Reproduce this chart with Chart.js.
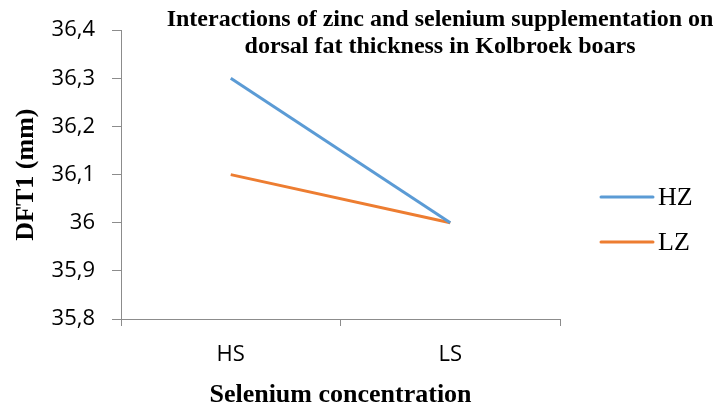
<!DOCTYPE html>
<html>
<head>
<meta charset="utf-8">
<script src="https://cdn.jsdelivr.net/npm/chart.js@4/dist/chart.umd.min.js"></script>
<style>
  html, body { margin: 0; padding: 0; background: #fff; }
  #wrap { width: 718px; height: 408px; position: relative; }
</style>
</head>
<body>
<div id="wrap"><canvas id="chart"></canvas></div>
<script>
const categories = ['HS', 'LS'];
const hzValues = [36.3, 36.0];
const lzValues = [36.1, 36.0];
const seriesNames = ['HZ', 'LZ'];
const titleLines = ['Interactions of zinc and selenium supplementation on', 'dorsal fat thickness in Kolbroek boars'];

const serif = '"Liberation Serif", "Times New Roman", serif';
const sans = '"Open Sans", "Liberation Sans", sans-serif';

// title + legend drawn by hand so they can sit where the original has them
const overlay = {
    id: 'overlay',
    afterDraw(chart) {
        const ctx = chart.ctx;
        ctx.save();
        ctx.fillStyle = '#000';
        ctx.textAlign = 'center';
        ctx.textBaseline = 'middle';
        ctx.font = 'bold 24px ' + serif;
        ctx.fillText(titleLines[0], 440, 20);
        ctx.fillText(titleLines[1], 440, 47);

        ctx.textAlign = 'left';
        ctx.font = '26px ' + serif;
        chart.data.datasets.forEach((ds, i) => {
            const y = 197 + i * 45;
            ctx.strokeStyle = ds.borderColor;
            ctx.lineWidth = 3;
            ctx.lineCap = 'round';
            ctx.beginPath();
            ctx.moveTo(601, y);
            ctx.lineTo(653, y);
            ctx.stroke();
            ctx.fillText(ds.label, 658, y + 1);
        });
        ctx.restore();
    }
};

new Chart(document.getElementById('chart'), {
    type: 'line',
    data: {
        labels: categories,
        datasets: [
            { label: seriesNames[0], data: hzValues, borderColor: '#5b9bd5', borderWidth: 3, pointRadius: 0, tension: 0 },
            { label: seriesNames[1], data: lzValues, borderColor: '#ed7d31', borderWidth: 3, pointRadius: 0, tension: 0 }
        ]
    },
    options: {
        responsive: true, maintainAspectRatio: false, animation: false,
        layout: { padding: { top: 29, right: 158, left: 0, bottom: 0 } },
        scales: {
            x: {
                offset: true,
                grid: { offset: true, drawOnChartArea: false, drawTicks: true, tickLength: 7, color: '#8c8c8c' },
                border: { display: true, color: '#8c8c8c', width: 1 },
                ticks: { color: '#000', font: { family: sans, size: 22 }, padding: 16 },
                title: { display: true, text: 'Selenium concentration', color: '#000', font: { family: serif, size: 26, weight: 'bold' }, padding: { top: 0, bottom: -3 } },
                afterFit: s => { s.height = 89; }
            },
            y: {
                min: 35.8, max: 36.4,
                grid: { drawOnChartArea: false, drawTicks: true, tickLength: 9, color: '#8c8c8c' },
                border: { display: true, color: '#8c8c8c', width: 1 },
                ticks: {
                    stepSize: 0.1, color: '#000', padding: 17,
                    font: { family: sans, size: 22 },
                    callback: v => String(Number(v.toFixed(1))).replace('.', ',')
                },
                title: { display: true, text: 'DFT1 (mm)', color: '#000', font: { family: serif, size: 26, weight: 'bold' }, padding: { top: 11, bottom: 0 } },
                afterFit: s => { s.width = 121; }
            }
        },
        plugins: { legend: { display: false }, tooltip: { enabled: false } }
    },
    plugins: [overlay]
});
</script>
</body>
</html>
